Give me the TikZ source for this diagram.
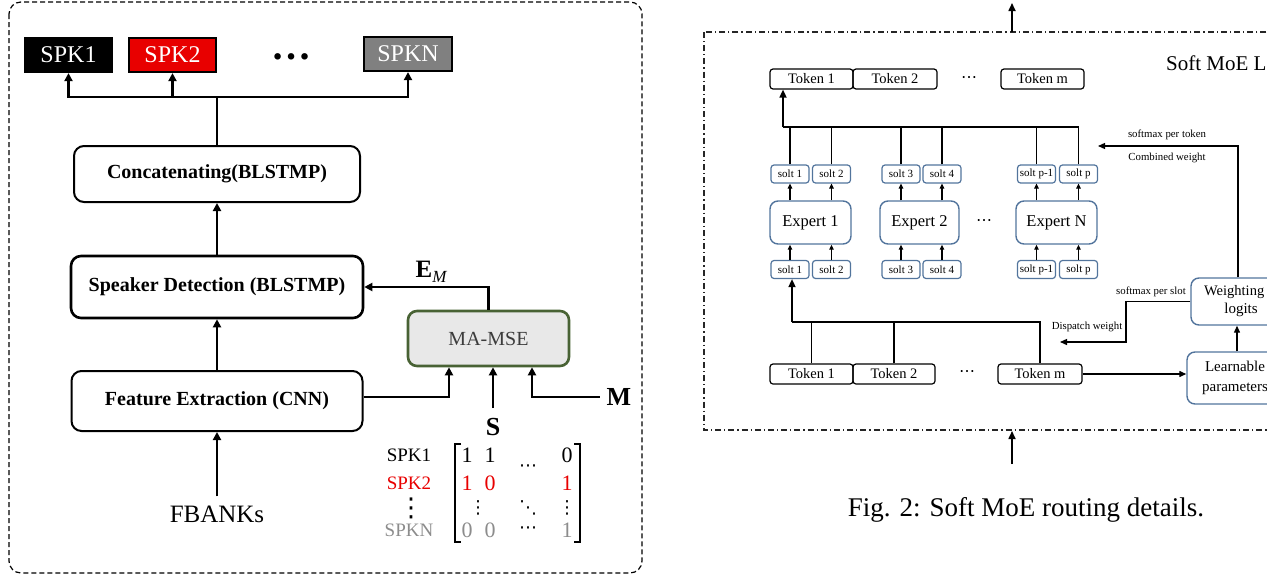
\documentclass[tikz,border=0pt]{standalone}
\usepackage{fontspec}
\setmainfont{Liberation Serif}
\newfontfamily\dotsfont{DejaVu Sans}
\usetikzlibrary{arrows.meta}
\definecolor{slotblue}{RGB}{82,116,156}
\definecolor{spkred}{RGB}{232,0,0}
\definecolor{spkgray}{RGB}{128,128,128}
\definecolor{mseedge}{RGB}{72,98,52}
\definecolor{msefill}{RGB}{232,232,232}
\definecolor{msetext}{RGB}{60,60,60}
\definecolor{rowgray}{RGB}{140,140,140}
\begin{document}
\begin{tikzpicture}[x=1pt,y=-1pt,
  wire/.style={line width=2.6pt},
  warrow/.style={wire,-{Triangle[length=8pt,width=8pt]}},
  blockbox/.style={draw,rounded corners=10pt,line width=2pt,inner sep=0pt,
    font=\fontsize{20}{24}\selectfont\bfseries},
  spkbox/.style={draw=black,line width=2.2pt,inner sep=0pt,minimum width=87pt,
    minimum height=34pt,text=white,font=\fontsize{24}{24}\selectfont},
  mlabel/.style={font=\fontsize{19}{19}\selectfont,inner sep=0pt},
  mentry/.style={font=\fontsize{22}{22}\selectfont,inner sep=0pt},
  mdots/.style={font=\fontsize{18}{18}\selectfont\dotsfont,inner sep=0pt},
  rline/.style={line width=1.2pt},
  rarrow/.style={rline,-{Triangle[length=5pt,width=4.5pt]}},
  marrow/.style={line width=1.3pt,-{Triangle[length=7pt,width=6pt]}},
  barrow/.style={line width=1.6pt,-{Triangle[length=8pt,width=7pt]}},
  token/.style={draw,rounded corners=3pt,line width=1.2pt,inner sep=0pt,
    minimum width=83pt,minimum height=20pt,font=\fontsize{14.5}{14.5}\selectfont},
  slot/.style={draw=slotblue,rounded corners=3pt,line width=1.2pt,inner sep=0pt,
    minimum width=38pt,minimum height=18pt,font=\fontsize{11}{11}\selectfont},
  expert/.style={draw=slotblue,rounded corners=8pt,line width=1.4pt,inner sep=0pt,
    minimum width=81pt,minimum height=43pt,font=\fontsize{16.5}{16.5}\selectfont},
  logitbox/.style={draw=slotblue,rounded corners=8pt,line width=1.4pt,inner sep=0pt,
    align=center},
  boxtext/.style={inner sep=0pt,font=\fontsize{15}{15}\selectfont},
  note/.style={font=\fontsize{10.8}{10.8}\selectfont,inner sep=0pt},
]
\useasboundingbox (0,0) rectangle (1267,579);
\clip (0,0) rectangle (1267,579);

% ---------------- speaker detection network ----------------
\draw[line width=1.2pt,dash pattern=on 5pt off 3pt,rounded corners=12pt] (9,2) rectangle (642,573);

\node[spkbox,fill=black] (spk1) at (68.5,55) {SPK1};
\node[spkbox,fill=spkred] (spk2) at (172.5,55) {SPK2};
\node[spkbox,fill=spkgray,minimum width=88pt] (spkn) at (408,54) {SPKN};
\node[anchor=base,inner sep=0pt,font=\fontsize{40}{40}\selectfont\bfseries] (spkdots) at (291,59) {…};

\node[blockbox,minimum width=286pt,minimum height=56pt] (concat) at (217,174) {Concatenating(BLSTMP)};
\node[blockbox,line width=2.6pt,minimum width=292pt,minimum height=62pt] (sd) at (217,287) {Speaker Detection (BLSTMP)};
\node[blockbox,minimum width=291pt,minimum height=60pt] (fe) at (217,401) {Feature Extraction (CNN)};
\node[font=\fontsize{25}{25}\selectfont,inner xsep=0pt,inner ysep=9pt] (fbanks) at (217,514) {FBANKs};

\coordinate (spkbus) at (217,97);
\draw[wire] (concat.north) -- (spkbus);
\draw[warrow] (spkbus) -| (spk1.south);
\draw[warrow] (spkbus) -| (spk2.south);
\draw[warrow] (spkbus) -| (spkn.south);
\draw[warrow] (sd.north) -- (concat.south);
\draw[warrow] (fe.north) -- (sd.south);
\draw[warrow] (fbanks.north) -- (fe.south);

\node[draw=mseedge,fill=msefill,line width=2.6pt,rounded corners=9pt,minimum width=161pt,
  minimum height=55pt,inner sep=0pt,text=msetext,font=\fontsize{20}{20}\selectfont] (mse) at (488.5,338.5) {MA-MSE};
\node[font=\fontsize{25}{25}\selectfont\bfseries,inner sep=0pt] (em) at (431,272)
  {E\raisebox{-5pt}{\fontsize{17}{17}\selectfont\mdseries\itshape M}};
\node[font=\fontsize{26}{26}\selectfont\bfseries,inner xsep=0pt,inner ysep=10pt] (slab) at (493,427) {S};
\node[font=\fontsize{26}{26}\selectfont\bfseries,inner xsep=7pt,inner ysep=0pt] (mlab) at (619,397) {M};

\draw[warrow] (mse.north) |- (sd.east);
\draw[warrow] ([yshift=4pt]fe.east) -| ([xshift=-39.5pt]mse.south);
\draw[warrow] (slab.north) -- (slab.north |- mse.south);
\draw[warrow] (mlab.west) -| ([xshift=43.5pt]mse.south);

% speaker activity matrix
\node[mlabel] (lab1) at (409,455) {SPK1};
\node[mlabel,text=spkred] (lab2) at (409,483) {SPK2};
\node[font=\fontsize{26}{26}\selectfont\dotsfont,inner sep=0pt] (lab3) at (411,508) {⋮};
\node[mlabel,text=rowgray] (lab4) at (409,530) {SPKN};

\draw[line width=1.6pt] (461,444) -- (455,444) -- (455,542) -- (461,542);
\draw[line width=1.6pt] (574,444) -- (580,444) -- (580,542) -- (574,542);

\node[mentry] (m11) at (467,455) {1};
\node[mentry] (m12) at (490,455) {1};
\node[mdots] (m13) at (528,468) {⋯};
\node[mentry] (m14) at (567,455) {0};
\node[mentry,text=spkred] (m21) at (467,483) {1};
\node[mentry,text=spkred] (m22) at (490,483) {0};
\node[mentry,text=spkred] (m24) at (567,483) {1};
\node[mdots] (m31) at (478,508) {⋮};
\node[mdots] (m33) at (528,508) {⋱};
\node[mdots] (m34) at (567,508) {⋮};
\node[mentry,text=rowgray] (m41) at (467,530) {0};
\node[mentry,text=rowgray] (m42) at (490,530) {0};
\node[mdots] (m43) at (528,530) {⋯};
\node[mentry,text=rowgray] (m44) at (567,530) {1};

% ---------------- soft MoE routing ----------------
\draw[line width=1.2pt,draw=black!85,dash pattern=on 6pt off 3pt on 1.2pt off 3pt] (704,32) rectangle (1300,430);
\coordinate (topin) at (1012,32);
\coordinate (topout) at (1012,3);
\draw[barrow] (topin) -- (topout);
\coordinate (botin) at (1012,464);
\coordinate (botout) at (1012,431);
\draw[barrow] (botin) -- (botout);

\node[anchor=west,inner sep=0pt,font=\fontsize{21}{21}\selectfont] (title) at (1166,63) {Soft MoE L};

\node[token] (tt1) at (811.5,79) {Token 1};
\node[token,minimum width=84pt] (tt2) at (895,79) {Token 2};
\node[font=\fontsize{16}{16}\selectfont\dotsfont,inner sep=0pt] (ttdots) at (969,80) {⋯};
\node[token] (ttm) at (1042.5,79) {Token m};

\foreach \n/\x/\t in {1/790/solt 1,2/831.5/solt 2,3/901/solt 3,4/942/solt 4,5/1036.5/solt p-1,6/1078.5/solt p}{
  \node[slot] (ts\n) at (\x,174) {\t};
  \node[slot] (bs\n) at (\x,269.5) {\t};
}

\node[expert] (e1) at (810.5,222.5) {Expert 1};
\node[expert,minimum width=79pt] (e2) at (919.5,222.5) {Expert 2};
\node[font=\fontsize{16}{16}\selectfont\dotsfont,inner sep=0pt] (edots) at (984,223) {⋯};
\node[expert] (en) at (1056.5,222.5) {Expert N};

\coordinate (topbus) at (783,127);
\foreach \n/\e in {1/e1,2/e1,3/e2,4/e2,5/en,6/en}{
  \draw[rarrow] (bs\n.north) -- (bs\n.north |- \e.south);
  \draw[rarrow] (ts\n.south |- \e.north) -- (ts\n.south);
  \draw[rline] (ts\n.north) -- (ts\n.north |- topbus);
}
\draw[rline] (ts6.north) |- (topbus);
\draw[barrow] (topbus) -- (topbus |- tt1.south);

\node[token] (bt1) at (811.5,374) {Token 1};
\node[token,minimum width=82pt] (bt2) at (894,374) {Token 2};
\node[font=\fontsize{16}{16}\selectfont\dotsfont,inner sep=0pt] (btdots) at (967,374) {⋯};
\node[token,minimum width=84pt] (btm) at (1040,374) {Token m};

\coordinate (botbus) at (792,322);
\draw[rline] (btm.north) |- (botbus);
\draw[rline] (bt1.north) -- (bt1.north |- botbus);
\draw[rline] (bt2.north) -- (bt2.north |- botbus);
\draw[barrow] (botbus) -- (botbus |- bs1.south);

\node[logitbox,minimum width=96pt,minimum height=52pt,font=\fontsize{15}{20}\selectfont] (learn) at (1235,378) {Learnable\\parameters};
\node[logitbox,minimum width=102pt,minimum height=47pt] (weight) at (1242,301.5) {};
\node[boxtext,anchor=base west,font=\fontsize{14.5}{14.5}\selectfont] (wtxt1) at (1204,295) {Weighting};
\node[boxtext,anchor=base] (wtxt2) at (1241,313) {logits};

\draw[marrow] (btm.east) -- (btm.east -| learn.west);
\draw[marrow] ([xshift=2pt]learn.north) -- ([xshift=2pt]learn.north |- weight.south);

\coordinate (combtip) at (1098,146);
\draw[marrow] ([xshift=-4pt]weight.north) |- (combtip);
\node[note] (smtok) at (1167,135) {softmax per token};
\node[note] (cw) at (1167,158) {Combined weight};

\coordinate (dcorner) at (1126,342);
\coordinate (disptip) at (1060,342);
\draw[marrow] (weight.west) -| (dcorner) -- (disptip);
\node[note] (smslot) at (1151,292) {softmax per slot};
\node[note] (dw) at (1087,327) {Dispatch weight};

\node[font=\fontsize{27}{27}\selectfont] (caption) at (1026,510) {Fig. 2: Soft MoE routing details.};
\end{tikzpicture}
\end{document}
